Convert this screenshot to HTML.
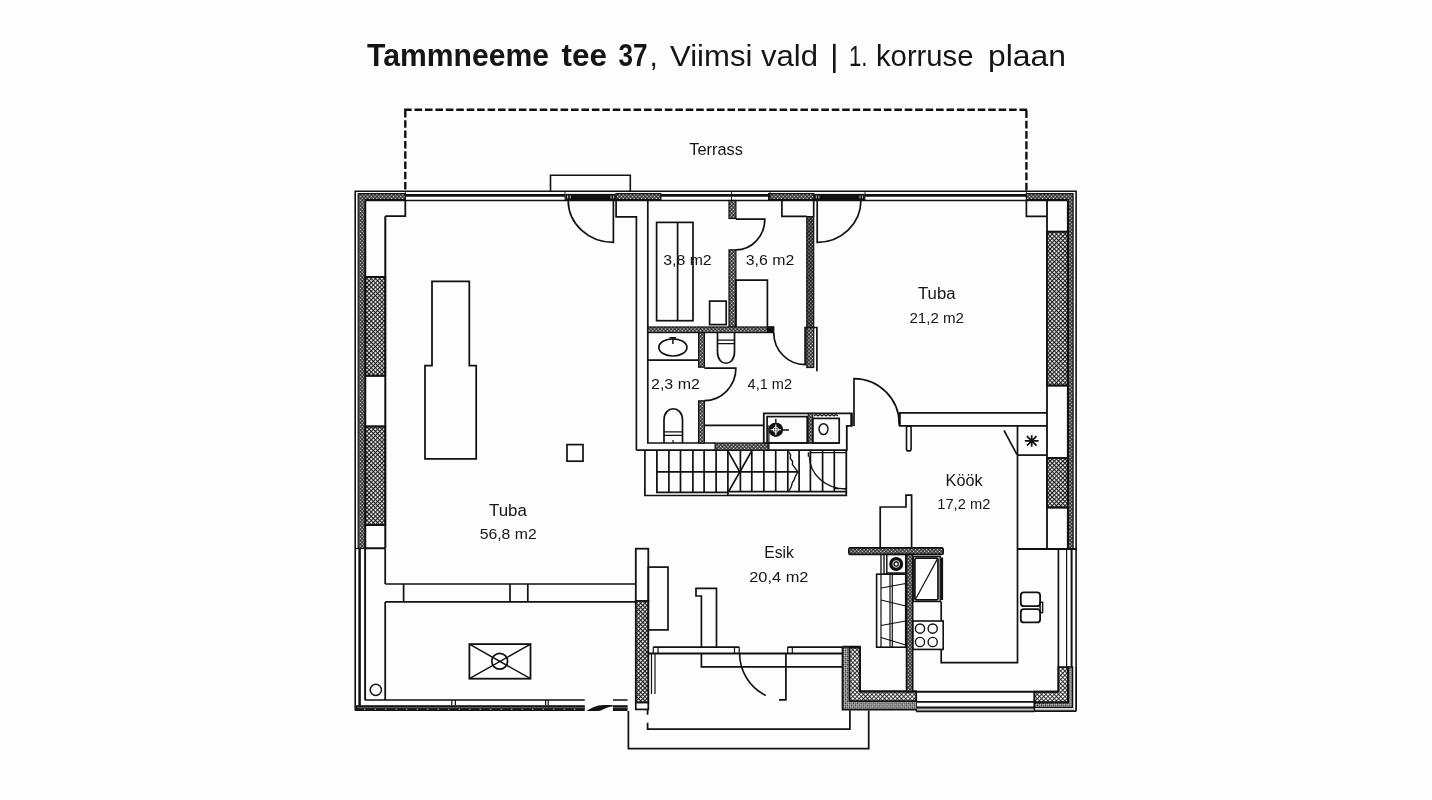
<!DOCTYPE html>
<html><head><meta charset="utf-8"><title>Tammneeme tee 37 - 1. korruse plaan</title>
<style>
html,body{margin:0;padding:0;background:#fdfdfd;width:1432px;height:800px;overflow:hidden}
svg{display:block;filter:grayscale(100%)}
text{font-family:"Liberation Sans",sans-serif;fill:#151515}
.l,.t,.k{stroke:#111;fill:none}
.l:not([stroke-width]){stroke-width:1.7}
.t:not([stroke-width]){stroke-width:1.2}
.k:not([stroke-width]){stroke-width:2}
.w{fill:#fdfdfd;stroke:#111}
.w:not([stroke-width]){stroke-width:1.5}
.ha{fill:url(#hA);stroke:#111}
.ha:not([stroke-width]){stroke-width:1.2}
.hb{fill:url(#hB);stroke:#111}
.hb:not([stroke-width]){stroke-width:1.6}
.hc{fill:url(#hC);stroke:#111}
.hd{fill:url(#hD);stroke:#111}
.hd:not([stroke-width]){stroke-width:1.2}
.hc:not([stroke-width]){stroke-width:1.2}
</style></head>
<body>
<svg width="1432" height="800" viewBox="0 0 1432 800">
<defs>
<pattern id="hA" width="2.6" height="2.6" patternUnits="userSpaceOnUse" patternTransform="rotate(45)">
<rect width="2.6" height="2.6" fill="#1a1a1a"/><rect x="0.5" y="0.5" width="1.5" height="1.5" fill="#f4f4f4"/>
</pattern>
<pattern id="hB" width="3" height="3" patternUnits="userSpaceOnUse" patternTransform="rotate(45)">
<rect width="3" height="3" fill="#f6f6f6"/><rect x="0" y="0" width="3" height="1.1" fill="#1a1a1a"/><rect x="0" y="0" width="1.1" height="3" fill="#1a1a1a"/>
</pattern>
<pattern id="hD" width="2.6" height="2.6" patternUnits="userSpaceOnUse" patternTransform="rotate(45)">
<rect width="2.6" height="2.6" fill="#1e1e1e"/><rect x="0.5" y="0.5" width="1.45" height="1.45" fill="#f2f2f2"/>
</pattern>
<pattern id="hE" width="3" height="3" patternUnits="userSpaceOnUse" patternTransform="rotate(45)">
<rect width="3" height="3" fill="#f6f6f6"/><rect x="0" y="0" width="3" height="0.85" fill="#1a1a1a"/><rect x="0" y="0" width="0.85" height="3" fill="#1a1a1a"/>
</pattern>
<pattern id="hC" width="2.8" height="2.8" patternUnits="userSpaceOnUse" patternTransform="rotate(45)">
<rect width="2.8" height="2.8" fill="#f2f2f2"/><rect x="0" y="0" width="1.4" height="1.4" fill="#1a1a1a"/><rect x="1.4" y="1.4" width="1.4" height="1.4" fill="#1a1a1a"/>
</pattern>
</defs>

<!-- TITLE -->
<g id="title">
<text x="367" y="66.2" font-size="32" font-weight="bold" textLength="182" lengthAdjust="spacingAndGlyphs">Tammneeme</text>
<text x="561.5" y="66.2" font-size="32" font-weight="bold" textLength="45.5" lengthAdjust="spacingAndGlyphs">tee</text>
<text x="618.5" y="66.2" font-size="32" font-weight="bold" textLength="29" lengthAdjust="spacingAndGlyphs">37</text>
<text x="649.5" y="66.2" font-size="30">,</text>
<text x="670" y="66.2" font-size="30" textLength="148" lengthAdjust="spacingAndGlyphs">Viimsi vald</text>
<rect x="833" y="43.8" width="2.6" height="29.2" fill="#151515"/>
<text x="849" y="66.2" font-size="30" textLength="18.5" lengthAdjust="spacingAndGlyphs">1.</text>
<text x="876" y="66.2" font-size="30" textLength="97.5" lengthAdjust="spacingAndGlyphs">korruse</text>
<text x="988" y="66.2" font-size="30" textLength="78" lengthAdjust="spacingAndGlyphs">plaan</text>
</g>

<!-- TERRACE -->
<g stroke="#111" stroke-width="2.4" fill="none">
<path d="M404.1,109.8 H1027.6" stroke-dasharray="7.6 2.83"/>
<path d="M405.3,110 V191" stroke-dasharray="7.5 2.8"/>
<path d="M1026.4,110.3 V191" stroke-dasharray="7.8 2.55"/>
</g>
<text x="689.3" y="154.6" font-size="16.3" textLength="53.5" lengthAdjust="spacingAndGlyphs">Terrass</text>

<!-- LABELS -->
<g font-size="14.6">
<text x="663.2" y="264.9" textLength="48.5" lengthAdjust="spacingAndGlyphs">3,8 m2</text>
<text x="745.8" y="264.9" textLength="48.5" lengthAdjust="spacingAndGlyphs">3,6 m2</text>
<text x="651" y="388.8" textLength="49" lengthAdjust="spacingAndGlyphs">2,3 m2</text>
<text x="747.6" y="388.8" textLength="44.5" lengthAdjust="spacingAndGlyphs">4,1 m2</text>
<text x="918" y="299.4" textLength="37.5" lengthAdjust="spacingAndGlyphs" font-size="15.6">Tuba</text>
<text x="909.4" y="322.7" textLength="54.6" lengthAdjust="spacingAndGlyphs">21,2 m2</text>
<text x="489" y="516" textLength="37.8" lengthAdjust="spacingAndGlyphs" font-size="15.6">Tuba</text>
<text x="479.7" y="538.9" textLength="57" lengthAdjust="spacingAndGlyphs">56,8 m2</text>
<text x="764.3" y="558.4" textLength="29.5" lengthAdjust="spacingAndGlyphs" font-size="15.6">Esik</text>
<text x="749.2" y="581.9" textLength="59.3" lengthAdjust="spacingAndGlyphs">20,4 m2</text>
<text x="945.6" y="485.6" textLength="37" lengthAdjust="spacingAndGlyphs" font-size="15.6">Köök</text>
<text x="937.3" y="508.75" textLength="53" lengthAdjust="spacingAndGlyphs">17,2 m2</text>
</g>

<!-- PLAN -->
<g id="plan">
<!-- outer shell lines -->
<g id="shell">
<path d="M355.2,710.5 V191.2 H1076.1 V667" stroke="#111" stroke-width="1.6" fill="none"/>
<!-- top hatched bands -->
<path class="hd" d="M358.2,193.6 H405.3 V199.6 H365.3 V548.5 H358.2 Z"/>
<path class="l" d="M365.3,200.5 V548.5" stroke-width="1.9"/>
<rect class="hd" x="616.1" y="193.6" width="44.8" height="6"/>
<rect class="hd" x="768.6" y="193.6" width="45.2" height="6"/>
<path class="hd" d="M1026.4,193.6 H1073.1 V549 H1068.4 V199.6 H1026.4 Z"/>
<path class="l" d="M1067.8,200.5 V549" stroke-width="1.8"/>
<!-- inner line of top wall -->
<path class="l" d="M365.3,200.5 H1067.6" stroke-width="1.7"/>
<!-- windows (top) -->
<path d="M405.3,195.3 H565 M661,195.3 H770 M865,195.3 H1026.4" stroke="#111" stroke-width="2.8"/>
<path class="t" d="M405.3,191.3 V200.5 M565,191.3 V200.5 M731.5,191.3 V200.5 M770,191.3 V200.5 M865,191.3 V200.5 M1026.4,191.3 V200.5" stroke-width="0.9"/>
<!-- door bars top -->
<rect x="565.3" y="193.9" width="50.6" height="6.8" fill="#111"/>
<rect x="814" y="193.9" width="50.8" height="6.8" fill="#111"/>
<path d="M567.6,195.5 V198.5 M570.2,195.5 V198.5 M611,195.5 V198.5 M613.6,195.5 V198.5 M816.3,195.5 V198.5 M818.9,195.5 V198.5 M860,195.5 V198.5 M862.6,195.5 V198.5" stroke="#cfcfcf" stroke-width="0.9"/>
<!-- bump above door -->
<path class="l" d="M550.5,191.3 V175.3 H630.3 V191.3" stroke-width="1.6"/>
</g>

<!-- left wall piers -->
<g id="leftwall">
<rect class="hb" x="365.5" y="277" width="19.8" height="98.7"/>
<rect class="hb" x="365.5" y="426.4" width="19.8" height="98.6"/>
<path class="l" d="M385.3,216.2 V548.3 M365.5,548.3 H385.3 M365.5,277 H385.3 M365.5,375.7 H385.3 M365.5,426.4 H385.3 M365.5,525 H385.3" stroke-width="2"/>
<path class="l" d="M405.3,200.5 V216.2 H385.3" stroke-width="1.8"/>
<!-- lower glazed wall -->
<path class="t" d="M365.1,548.5 V700.1" stroke-width="1.9"/>
<path d="M359.6,548.5 V706" stroke="#111" stroke-width="2.5"/>
<path class="t" d="M355.2,548.5 H365.5"/>
</g>

<!-- right wall piers -->
<g id="rightwall">
<rect class="hb" x="1047" y="231.7" width="20.6" height="153.8"/>
<rect class="hb" x="1047" y="457.8" width="20.6" height="49.7"/>
<path class="l" d="M1047,200.5 V549 M1047,231.7 H1067.6 M1047,385.5 H1067.6 M1047,457.8 H1067.6 M1047,507.5 H1067.6" stroke-width="1.8"/>
<path class="l" d="M1026.4,200.5 V216.3 H1047" stroke-width="1.7"/>
<path class="l" d="M1017.5,549 H1077" stroke-width="1.8"/>
<!-- lower glazed wall right -->
<path class="l" d="M1058.4,549 V691.6" stroke-width="1.7"/>
<path class="t" d="M1066.6,549 V667"/>
<path d="M1071.6,549 V667" stroke="#111" stroke-width="2"/>
<!-- corner hatch -->
<path d="M1058.4,667 H1067.8 V702.1 H1034.4 V691.7 H1058.4 Z" fill="url(#hE)" stroke="#111" stroke-width="1.75"/>
<path class="hc" d="M1068.4,667 H1072.6 V707.4 H1034.4 V702.8 H1068.4 Z" stroke-width="1.35"/>
<path d="M1034.4,709.3 H1074.5" stroke="#bbb" stroke-width="1.75"/>
<path class="l" d="M1034.4,711 H1075.5 Q1076.1,711 1076.1,710 V667" stroke-width="1.75"/>
</g>

<!-- bottom walls -->
<g id="bottom">
<path class="t" d="M364.8,700 H584.8 M612.9,700 H627.6" stroke-width="1.7"/>
<rect x="355" y="705.2" width="229.8" height="5.8" fill="#161616"/>
<rect x="612.9" y="705.2" width="14.7" height="5.8" fill="#161616"/>
<path d="M357,707.7 H584.8 M612.9,707.7 H627.6" stroke="#666" stroke-width="1"/>
<path d="M364.2,709.3 H584.8" stroke="#f0f0f0" stroke-width="1.1" stroke-dasharray="1.1 9.4"/>
<path class="t" d="M451.8,700.1 V705.2 M455.4,700.1 V705.2 M545.6,700.1 V705.2 M548.2,700.1 V705.2"/>
<path d="M586.3,711.1 C591,708.5 596,705.1 604,705.1 L612.6,705.1 L612.6,706.6 C606,706.6 602.5,711.1 598.5,711.1 Z" fill="#111"/>
<!-- kitchen bottom window -->
<path d="M916.2,701.9 H1034.4" stroke="#111" stroke-width="1.8"/>
<path d="M916.2,707.6 H1034.4" stroke="#111" stroke-width="2.4"/>
<path d="M916.2,709.6 H1034.4" stroke="#bbb" stroke-width="1.6"/>
<path class="l" d="M916.2,711.3 H1034.4" stroke-width="1.7"/>
<path class="t" d="M916.2,691.7 V711.3 M1034.4,691.7 V711.3" stroke-width="1.45"/>
<path class="l" d="M912.7,691.7 H1058.4" stroke-width="2"/>
<!-- wind porch L-wall -->
<path d="M842.5,646.8 H859.9 V691.4 H916.2 V709.5 H842.5 Z" fill="url(#hC)"/>
<path d="M849.5,647.5 H859.9 V691.4 H916.2 V701.2 H849.5 Z" fill="url(#hE)" stroke="#111" stroke-width="1.8"/>
<path class="l" d="M842.5,646.8 H859.9 V691.4 H916.2" stroke-width="2"/>
<path class="l" d="M842.5,646.8 V709.6 H916.2" stroke-width="1.75"/>
<!-- steps -->
<path class="l" d="M628.4,711 V748.7 H868.7 V710.3" stroke-width="1.75"/>
<path class="l" d="M647.6,722.7 V729.2 H849.9 V710.3" stroke-width="1.75"/>
<path class="l" d="M647.6,709.6 V714.8" stroke-width="1.75"/>
</g>

<!-- Tuba 56.8 interior -->
<g id="tuba1">
<path class="l" d="M616.1,200.5 V216.8 H636.4 V450.2" stroke-width="1.7"/>
<path class="l" d="M432,365.5 V281.3 H469.3 V365.5 H476.2 V458.8 H425 V365.5 Z" stroke-width="1.75"/>
<rect class="l" x="567" y="444.6" width="16" height="16.6" stroke-width="1.7"/>
<path class="l" d="M385.2,548.5 V584 M385.2,602 V700.1" stroke-width="1.75"/>
<path class="l" d="M385.2,584 H635.7 M385.2,601.9 H635.7 M403.6,584 V601.9 M510,584 V601.9 M527.8,584 V601.9" stroke-width="1.7"/>
<circle class="l" cx="375.8" cy="689.9" r="5.6" stroke-width="1.45"/>
<rect class="l" x="469.4" y="644.1" width="61.1" height="34.6" stroke-width="1.8"/>
<path class="t" d="M469.4,644.1 L530.5,678.7 M530.5,644.1 L469.4,678.7" stroke-width="1.45"/>
<circle class="l" cx="499.7" cy="661.3" r="7.9" stroke-width="1.75"/>
<!-- door top -->
<path class="l" d="M613.4,200.5 V242.4 A45.2,41.9 0 0 1 568.2,200.5" stroke-width="1.7"/>
</g>

<!-- Esik -->
<g id="esik">
<rect class="w" x="635.8" y="548.7" width="12.5" height="52.3" stroke-width="1.8"/>
<rect class="hb" x="635.8" y="601" width="12.5" height="101.6" stroke-width="1.8"/>
<rect class="w" x="635.8" y="702.6" width="12.5" height="6.8" stroke-width="1.7"/>
<rect class="l" x="648.3" y="567.1" width="19.7" height="62.8" stroke-width="1.7"/>
<path class="l" d="M701.4,647.1 V596 H696 V588.4 H716.5 V647.1" stroke-width="1.7"/>
<path class="l" d="M701.4,654 V666.8 H842.3" stroke-width="1.7"/>
<path class="t" d="M651.5,653.4 V694 M655,653.4 V694"/>
<!-- porch windows -->
<path class="l" d="M653.3,647.1 H739.2 M787.7,647.1 H842.3" stroke-width="1.7"/>
<path d="M648.3,653.5 H842.3" stroke="#111" stroke-width="2.2"/>
<path class="t" d="M653.3,647.1 V653.5 M658,647.1 V653.5 M739.2,647.1 V653.5 M734.5,647.1 V653.5 M787.7,647.1 V653.5 M792.3,647.1 V653.5"/>
<!-- entry door -->
<path class="l" d="M739.6,653.5 A47,47 0 0 0 765.8,695.5" stroke-width="1.6"/>
<path class="l" d="M785.9,653.5 V699.9 H779" stroke-width="1.75"/>
</g>

<!-- WC block -->
<g id="wc">
<path class="l" d="M647.8,200.5 V443 H715.1" stroke-width="1.7"/>
<path class="l" d="M636.4,450.2 H846.8 V425.9 H851.8 V413.4 H763.8 V443" stroke-width="1.8"/>
<!-- bathtub -->
<rect class="l" x="656.6" y="222.4" width="36.4" height="98.3" stroke-width="1.7"/>
<path class="l" d="M677.6,222.4 V320.7" stroke-width="1.7"/>
<rect class="l" x="709.6" y="301.1" width="16.6" height="23.5" stroke-width="1.7"/>
<!-- hatched partitions -->
<rect class="ha" x="729" y="200.5" width="6.9" height="18"/>
<rect class="ha" x="729" y="249.8" width="6.9" height="77.5"/>
<rect class="ha" x="647.8" y="327" width="126" height="5.6"/>
<rect x="766.8" y="326.4" width="7" height="6.6" fill="#111"/>
<rect class="ha" x="698.6" y="332.6" width="5.8" height="34.6"/>
<rect class="ha" x="698.6" y="400.8" width="5.8" height="42.2"/>
<rect class="ha" x="806.8" y="216.6" width="6.9" height="150.9"/>
<rect x="806.8" y="216.6" width="6.9" height="110" fill="#111" opacity="0.35"/>
<rect class="ha" x="715.1" y="443" width="53" height="7.2"/>
<!-- 3.6 notch & box -->
<path class="l" d="M781.9,200.5 V216.3 H806.8" stroke-width="1.7"/>
<path class="l" d="M813.7,200.5 V216.6" stroke-width="1.7"/>
<path class="l" d="M735.9,327 V280.1 H767.4 V327" stroke-width="1.7"/>
<!-- door 3.6 -->
<path class="l" d="M735.9,219.2 H764.8 A29,30.5 0 0 1 735.9,249.8" stroke-width="1.7"/>
<!-- sink room -->
<path class="l" d="M647.8,360.2 H698.6" stroke-width="1.75"/>
<ellipse class="l" cx="672.9" cy="347.4" rx="14" ry="8.6" stroke-width="1.7"/>
<path class="l" d="M672.9,338.6 V344 M669.5,337.6 H676" stroke-width="1.45"/>
<!-- door 2.3 -->
<path class="l" d="M704.4,368.1 H735.9 A31.5,32.5 0 0 1 704.4,400.6" stroke-width="1.7"/>
<!-- toilet top -->
<path class="l" d="M717.5,332.6 V352 C717.5,367 734.5,367 734.5,352 V332.6" stroke-width="1.7"/>
<path class="t" d="M717.5,340.2 H734.5 M717.5,343.6 H734.5"/>
<!-- toilet bottom -->
<path class="l" d="M664,443 V420 C664,405 682.5,405 682.5,420 V443" stroke-width="1.7"/>
<path class="t" d="M664,431.9 H682.5 M664,435.4 H682.5"/>
<path class="t" d="M673,443 V440"/>
<!-- 4.1 counter & utility -->
<path class="l" d="M704.4,425.3 H763.8" stroke-width="1.7"/>
<path class="t" d="M768.9,425.3 V450.2 M763.8,443.1 H839.2"/>
<rect class="l" x="767.1" y="416.6" width="40.1" height="26.3" stroke-width="1.7"/>
<rect class="ha" x="808.2" y="413.4" width="4.6" height="29.6" stroke-width="1"/>
<rect class="l" x="812.8" y="418.4" width="26.4" height="24.6" stroke-width="1.7"/>
<path d="M814,416 l2,-1.6 l2,1.6 l2,-1.6 l2,1.6 l2,-1.6 l2,1.6 l2,-1.6 l2,1.6 l2,-1.6 l2,1.6 l2,-1.6 l2,1.6" stroke="#111" stroke-width="1.1" fill="none"/>
<ellipse class="l" cx="823.5" cy="429.1" rx="4.5" ry="5.4" stroke-width="1.45"/>
<circle cx="775.8" cy="429.7" r="7.3" fill="#111"/>
<path d="M775.8,424.5 V435 M770.6,429.7 H781" stroke="#fdfdfd" stroke-width="1.1"/>
<circle cx="775.8" cy="429.7" r="2.6" fill="none" stroke="#fdfdfd" stroke-width="0.9"/>
<path class="t" d="M775.8,419 V422.4 M783,430 H789" stroke-width="1.45"/>
<!-- door 4.1 -> corridor -->
<path class="l" d="M773.8,333 A31.5,31.5 0 0 0 805.1,364.6 V327.5 H816.9 V371.2" stroke-width="1.7"/>
</g>

<!-- Tuba 21.2 -->
<g id="tuba2">
<path class="l" d="M817.2,200.5 V242.4 A43.7,41.9 0 0 0 860.9,200.5" stroke-width="1.7"/>
<path class="l" d="M854,426 V378.6 A45.5,45.5 0 0 1 899.3,424" stroke-width="1.7"/>
<path class="l" d="M899,412.8 H1047 M899,425.9 H1047" stroke-width="1.8"/>
<path d="M899.6,412.8 V425.9" stroke="#111" stroke-width="2.4"/>
<path d="M851.4,413.4 V425.9" stroke="#111" stroke-width="2.2"/>
<rect class="l" x="906.5" y="425.9" width="4.6" height="25" rx="2" stroke-width="1.6"/>
</g>

<!-- Stairs -->
<g id="stairs">
<path class="l" d="M644.9,450.4 V495.5 H728.1" stroke-width="1.7"/>
<path class="l" d="M656.9,450.4 V492.4 H728.1 M728.1,491.5 H846.3 M728.1,495.4 H846.3 V450.4" stroke-width="1.75"/>
<path class="l" d="M656.9,471.9 H798.7" stroke-width="1.75"/>
<path class="l" d="M668.9,450.4 V492.4 M680.5,450.4 V492.4 M692.9,450.4 V492.4 M704.1,450.4 V492.4 M716.1,450.4 V492.4 M727.9,450.4 V495.4 M740.4,450.4 V491.5 M751.8,450.4 V491.5 M763.9,450.4 V491.5 M775.7,450.4 V491.5 M787.8,450.4 V491.5 M799.1,450.4 V491.5 M810.4,450.4 V491.5 M822.6,450.4 V491.5 M834.3,450.4 V491.5" stroke-width="1.7"/>
<path class="l" d="M728.2,451.3 L739.8,472 L751.4,451.5 M739.8,472 L728.6,491.5" stroke-width="1.6"/>
<path class="t" d="M788.6,451.5 L790.6,455 L790.2,458.2 L792.6,461.4 L792.4,464.6 L795,467.8 L797.9,472 L795.5,476 L794.2,479.6 L792.2,483 L791.3,486.8 L788.8,491" stroke-width="1.35"/>
<path class="t" d="M809.5,452.6 H846.3 M809.5,456.5 A36.5,32.6 0 0 0 846.1,489 M834.5,488.6 H846.1 M808.4,452.6 V456.8" stroke-width="1.35"/>
</g>

<!-- Kitchen -->
<g id="kitchen">
<path class="l" d="M880.2,547.9 V507 H906 V495.1 H911.6 V547.9" stroke-width="1.7"/>
<rect class="ha" x="848.8" y="547.9" width="94.4" height="6.5" rx="1.5" stroke-width="1.6"/>
<rect class="ha" x="906.5" y="554.4" width="6.2" height="137.2" stroke-width="1.6"/>
<path class="l" d="M881,554.4 V574.2 M884,554.4 V574.2 H905.7" stroke-width="1.35"/>
<rect class="l" x="886.8" y="554.4" width="18.9" height="18.6" stroke-width="1.45"/>
<circle cx="896.2" cy="564" r="7" fill="#111"/>
<circle cx="896.2" cy="564" r="3.4" fill="none" stroke="#fdfdfd" stroke-width="0.9"/>
<circle cx="896.2" cy="564" r="1.5" fill="#fdfdfd"/>
<rect class="l" x="876.6" y="574.2" width="29.1" height="73" stroke-width="1.6"/>
<path class="t" d="M881,574.2 V647.2 M890,574.2 V647.2 M892.3,574.2 V647.2"/>
<path class="t" d="M881,588 L905.7,583.5 M881,600 L905.7,606 M881,625.5 L905.7,621 M881,637.5 L905.7,645"/>
<rect class="l" x="913.2" y="556.5" width="27" height="45" stroke-width="1.45"/>
<rect class="l" x="914.9" y="558.2" width="23.1" height="41.7" rx="1.5" stroke-width="1.7"/>
<path class="t" d="M915.4,599.5 L937.6,558.6"/>
<path d="M941.9,557.5 V600" stroke="#111" stroke-width="2.4"/>
<rect class="l" x="912.7" y="621" width="30.5" height="28.4" stroke-width="1.6"/>
<g class="t" stroke-width="1.35">
<circle cx="920" cy="628.6" r="4.6"/><circle cx="932.7" cy="628.6" r="4.6"/>
<circle cx="920" cy="642" r="4.6"/><circle cx="932.7" cy="642" r="4.6"/>
</g>
<path class="l" d="M941.2,601.5 V621 M941.2,649.4 V662.6 H1017.5 V425.9" stroke-width="1.7"/>
<!-- asterisk box -->
<path class="l" d="M1017.8,455.1 H1047" stroke-width="1.7"/>
<path class="t" d="M1004,430.4 L1017,454.6" stroke-width="1.7"/>
<path d="M1031.7,435.2 V446.7 M1024.8,440.9 H1038.6 M1026.9,436.1 L1036.5,445.7 M1026.9,445.7 L1036.5,436.1" stroke="#111" stroke-width="1.7"/>
<circle cx="1031.7" cy="440.9" r="1.8" fill="#111"/>
<!-- chair -->
<rect class="l" x="1020.8" y="592.4" width="19.3" height="13.8" rx="3" stroke-width="1.8"/>
<rect class="l" x="1020.8" y="609.2" width="19.3" height="13.2" rx="3" stroke-width="1.8"/>
<rect class="l" x="1040.1" y="602.3" width="2.5" height="10.3" stroke-width="1.45"/>
</g>
</g>
</svg>
</body></html>
